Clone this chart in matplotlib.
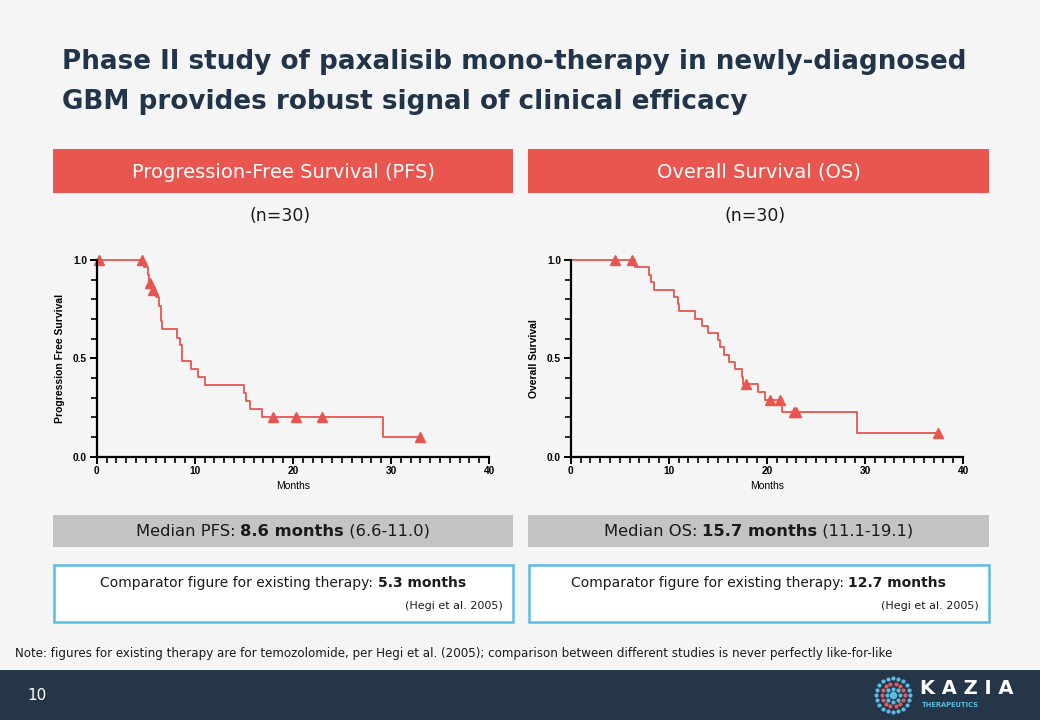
import numpy as np
import matplotlib
matplotlib.use('Agg')
import matplotlib.pyplot as plt
from matplotlib.patches import Rectangle
from matplotlib.ticker import MultipleLocator

# Dane (czas w miesiącach, przeżycie po zdarzeniu)
pfs_times = [0, 4.8, 5.2, 5.35, 5.6, 6.0, 6.4, 6.55, 6.7, 8.2, 8.5, 8.7, 9.6, 10.3, 11.0,
             15.0, 15.2, 15.6, 16.8, 29.2, 33.0]
pfs_surv = [1.0, 0.963, 0.924, 0.885, 0.847, 0.81, 0.768, 0.69, 0.647, 0.605, 0.566, 0.488,
            0.446, 0.407, 0.364, 0.322, 0.283, 0.242, 0.20, 0.10, 0.10]
pfs_cens_t = [0.2, 4.6, 5.4, 5.75, 18.0, 20.3, 23.0, 33.0]
pfs_cens_s = [1.0, 1.0, 0.885, 0.847, 0.20, 0.20, 0.20, 0.10]

os_times = [0, 6.6, 8.0, 8.15, 8.5, 10.5, 10.9, 11.05, 12.7, 13.4, 14.0, 15.0, 15.2, 15.6,
            16.1, 16.7, 17.45, 17.6, 19.05, 19.8, 21.5, 29.2, 37.4]
os_surv = [1.0, 0.963, 0.925, 0.888, 0.85, 0.814, 0.776, 0.739, 0.70, 0.664, 0.627, 0.593,
           0.556, 0.517, 0.481, 0.444, 0.407, 0.369, 0.33, 0.288, 0.229, 0.119, 0.119]
os_cens_t = [4.5, 6.25, 17.9, 20.3, 21.3, 22.8, 22.95, 37.4]
os_cens_s = [1.0, 1.0, 0.369, 0.288, 0.288, 0.229, 0.229, 0.119]

panel_titles = ['Progression-Free Survival (PFS)', 'Overall Survival (OS)']
n_labels = ['(n=30)', '(n=30)']
y_labels = ['Progression Free Survival', 'Overall Survival']
median_parts = [[('Median PFS: ', 'normal'), ('8.6 months', 'bold'), (' (6.6-11.0)', 'normal')],
                [('Median OS: ', 'normal'), ('15.7 months', 'bold'), (' (11.1-19.1)', 'normal')]]
comparator_parts = [[('Comparator figure for existing therapy: ', 'normal'), ('5.3 months', 'bold')],
                    [('Comparator figure for existing therapy: ', 'normal'), ('12.7 months', 'bold')]]
reference_text = '(Hegi et al. 2005)'
title_lines = ['Phase II study of paxalisib mono-therapy in newly-diagnosed',
               'GBM provides robust signal of clinical efficacy']
note_text = ('Note: figures for existing therapy are for temozolomide, per Hegi et al. (2005); '
             'comparison between different studies is never perfectly like-for-like')

BG = '#f5f5f5'
NAVY = '#223449'
RED = '#e9554f'
GRAY = '#c4c4c4'
CYAN = '#5bbde0'
LINE = '#e8554f'

W, H = 1040, 720
fig = plt.figure(figsize=(W / 100, H / 100), dpi=100, facecolor=BG)
bg = fig.add_axes([0, 0, 1, 1])
bg.set_xlim(0, W)
bg.set_ylim(H, 0)
bg.axis('off')

renderer = fig.canvas.get_renderer()


def mixed_text(parts, x, y, size, color='#1a1a1a'):
    widths = []
    for s, w in parts:
        t = bg.text(0, 0, s, fontsize=size, fontweight=w)
        widths.append(t.get_window_extent(renderer).width)
        t.remove()
    x0 = x - sum(widths) / 2
    for (s, w), wd in zip(parts, widths):
        bg.text(x0, y, s, fontsize=size, fontweight=w, color=color, va='center', ha='left')
        x0 += wd


# Tytuł
for i, line in enumerate(title_lines):
    bg.text(62, 62 + i * 40, line, fontsize=18.9, fontweight='bold', color=NAVY,
            va='center', ha='left')

panels = [(53, 513), (528, 989)]
for i, (x0, x1) in enumerate(panels):
    cx = (x0 + x1) / 2
    bg.add_patch(Rectangle((x0, 149), x1 - x0, 44, color=RED, lw=0))
    bg.text(cx, 172, panel_titles[i], fontsize=14, color='white', ha='center', va='center')
    bg.text(cx - 3, 216, n_labels[i], fontsize=12.5, color='#1a1a1a', ha='center', va='center')
    bg.add_patch(Rectangle((x0, 515), x1 - x0, 32, color=GRAY, lw=0))
    mixed_text(median_parts[i], cx, 531, 11.8)
    bg.add_patch(Rectangle((x0 + 0.5, 564.5), x1 - x0 - 1, 57, facecolor='white',
                           edgecolor=CYAN, lw=1.8))
    mixed_text(comparator_parts[i], cx, 583, 10)
    bg.text(x1 - 10, 606, reference_text, fontsize=8, color='#1a1a1a', ha='right', va='center')

bg.text(15, 653, note_text, fontsize=8.6, color='#1a1a1a', ha='left', va='center')

# Stopka
bg.add_patch(Rectangle((0, 670), W, 50, color='#253649', lw=0))
bg.text(27, 696, '10', fontsize=11, color='white', ha='left', va='center')

# Logo
lc = (893, 695)
for r, n, col in [(17, 20, '#5bbde0'), (11.5, 14, '#e05a5f'), (6.5, 8, '#5bbde0')]:
    a = np.linspace(0, 2 * np.pi, n, endpoint=False)
    bg.scatter(lc[0] + r * np.cos(a), lc[1] + r * np.sin(a), s=9, color=col, lw=0)
bg.scatter([lc[0]], [lc[1]], s=30, color='#5bbde0', lw=0)
bg.text(920, 689, 'K A Z I A', fontsize=14, fontweight='bold', color='white',
        ha='left', va='center')
bg.text(922, 705, 'THERAPEUTICS', fontsize=4.8, fontweight='bold', color='#5bbde0',
        ha='left', va='center')

# Wykresy Kaplana-Meiera
curves = [(pfs_times, pfs_surv, pfs_cens_t, pfs_cens_s),
          (os_times, os_surv, os_cens_t, os_cens_s)]
ax_lefts = [96.7, 570.7]
for i, (tt, ss, ct, cs) in enumerate(curves):
    ax = fig.add_axes([ax_lefts[i] / W, (H - 456.7) / H, 392.4 / W, 196.7 / H])
    ax.set_facecolor('none')
    ax.step(tt, ss, where='post', color=LINE, lw=1.3, clip_on=False)
    ax.plot(ct, cs, '^', color=LINE, ms=6.5, clip_on=False)
    ax.set_xlim(0, 40)
    ax.set_ylim(0, 1)
    for s in ['top', 'right']:
        ax.spines[s].set_visible(False)
    for s in ['left', 'bottom']:
        ax.spines[s].set_linewidth(1.6)
    ax.xaxis.set_major_locator(MultipleLocator(10))
    ax.xaxis.set_minor_locator(MultipleLocator(1))
    ax.yaxis.set_major_locator(MultipleLocator(0.5))
    ax.yaxis.set_minor_locator(MultipleLocator(0.1))
    ax.tick_params(which='major', length=5, width=1.4, labelsize=7.3, pad=2)
    ax.tick_params(which='minor', length=4, width=1.2)
    ax.set_yticks([0, 0.5, 1.0])
    ax.set_yticklabels(['0.0', '0.5', '1.0'])
    for lab in ax.get_xticklabels() + ax.get_yticklabels():
        lab.set_fontfamily('Liberation Sans')
        lab.set_fontweight('bold')
    ax.set_xlabel('Months', fontsize=7.5, family='Liberation Sans', labelpad=3)
    ax.set_ylabel(y_labels[i], fontsize=7.5, family='Liberation Sans', fontweight='bold',
                  labelpad=6)

fig.savefig('out.png', dpi=100, facecolor=BG)
